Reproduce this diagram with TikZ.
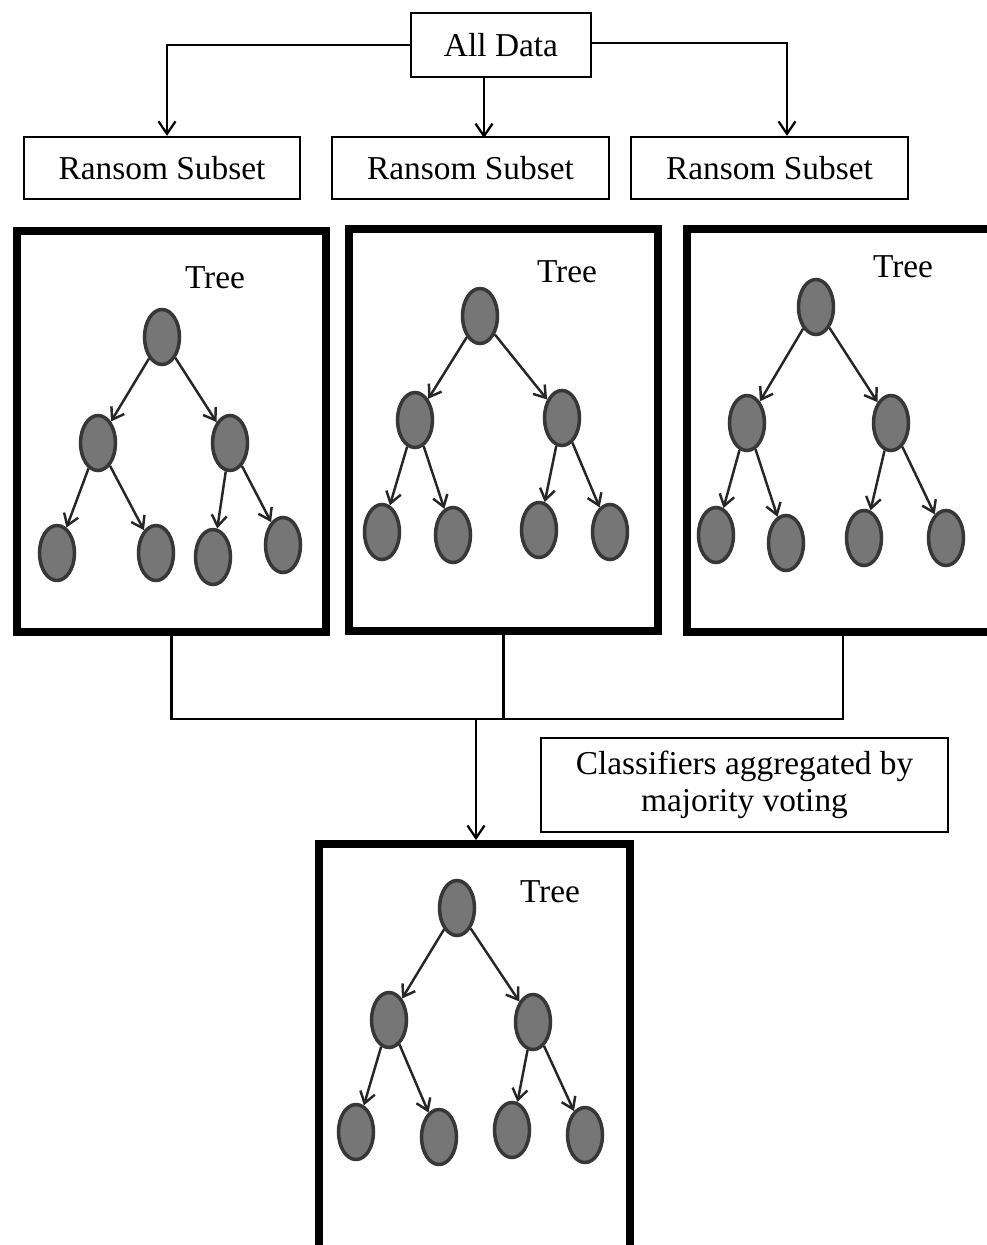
\documentclass[tikz,border=0pt]{standalone}
\usepackage{fontspec}
\setmainfont{Liberation Serif}
\usepackage{tikz}
\usetikzlibrary{shapes.geometric,arrows.meta}
\definecolor{leafgray}{RGB}{118,118,118}
\definecolor{rimgray}{RGB}{55,55,55}

\begin{document}
\begin{tikzpicture}[x=0.02cm,y=-0.02cm,
  font=\fontsize{19}{21}\selectfont,
  thinbox/.style={draw,rectangle,line width=1.3pt,inner sep=0pt},
  treebox/.style={draw,rectangle,line width=4.5pt,inner sep=0pt},
  tnode/.style={draw=rimgray,fill=leafgray,ellipse,line width=2pt,minimum width=0.7cm,minimum height=1.1cm,inner sep=0pt},
  tedge/.style={-{Straight Barb[length=2.2mm,width=3mm]},line width=1.4pt,draw=black!85},
  flow/.style={-{Straight Barb[length=2.5mm,width=3.4mm]},line width=1.3pt}]
\useasboundingbox (0,0) rectangle (987,1245);
\clip (0,0) rectangle (987,1245);

% Data and random subsets
\node[thinbox,minimum width=3.6cm,minimum height=1.28cm] (all) at (501,45) {All Data};
\node[thinbox,minimum width=5.52cm,minimum height=1.24cm] (sub1) at (162,168) {Ransom Subset};
\node[thinbox,minimum width=5.54cm,minimum height=1.24cm] (sub2) at (470.5,168) {Ransom Subset};
\node[thinbox,minimum width=5.54cm,minimum height=1.24cm] (sub3) at (769.5,168) {Ransom Subset};

\draw[flow] (all.west) -| ([xshift=0.1cm]sub1.north);
\draw[flow] ([xshift=-0.34cm]all.south) -- ++(0,60);
\draw[flow] ([yshift=0.04cm]all.east) -| ([xshift=0.35cm]sub3.north);

% Tree frames
\node[treebox,minimum width=6.18cm,minimum height=8.02cm] (tree1) at (171.5,431.5) {};
\node[treebox,minimum width=6.18cm,minimum height=8.04cm] (tree2) at (503.5,430) {};
\node[treebox,minimum width=6.24cm,minimum height=8.06cm] (tree3) at (843,430.5) {};
\node[treebox,minimum width=6.22cm,minimum height=8.32cm] (final) at (474.5,1052) {};

\node (lab1) at (215,278) {Tree};
\node (lab2) at (567,272) {Tree};
\node (lab3) at (903,267) {Tree};
\node (lab4) at (550,892) {Tree};

% Tree 1
\node[tnode] (t1r) at (162,337) {};
\node[tnode] (t1a) at (98,443) {};
\node[tnode] (t1b) at (230,443) {};
\node[tnode] (t1aa) at (57,553) {};
\node[tnode] (t1ab) at (156,553) {};
\node[tnode] (t1ba) at (213,557) {};
\node[tnode] (t1bb) at (283,545) {};

% Tree 2
\node[tnode] (t2r) at (480,316) {};
\node[tnode] (t2a) at (415,420) {};
\node[tnode] (t2b) at (562,418) {};
\node[tnode] (t2aa) at (382,532) {};
\node[tnode] (t2ab) at (453,535) {};
\node[tnode] (t2ba) at (539,530) {};
\node[tnode] (t2bb) at (610,532) {};

% Tree 3
\node[tnode] (t3r) at (816,307) {};
\node[tnode] (t3a) at (747,423) {};
\node[tnode] (t3b) at (891,423) {};
\node[tnode] (t3aa) at (716,535) {};
\node[tnode] (t3ab) at (786,543) {};
\node[tnode] (t3ba) at (864,538) {};
\node[tnode] (t3bb) at (946,538) {};

% Aggregated tree
\node[tnode] (t4r) at (457,908) {};
\node[tnode] (t4a) at (389,1020) {};
\node[tnode] (t4b) at (533,1022) {};
\node[tnode] (t4aa) at (356,1132) {};
\node[tnode] (t4ab) at (439,1137) {};
\node[tnode] (t4ba) at (512,1130) {};
\node[tnode] (t4bb) at (585,1135) {};

\foreach \t in {1,...,4}{
  \draw[tedge] (t\t r) -- (t\t a);
  \draw[tedge] (t\t r) -- (t\t b);
  \draw[tedge] (t\t a) -- (t\t aa);
  \draw[tedge] (t\t a) -- (t\t ab);
  \draw[tedge] (t\t b) -- (t\t ba);
  \draw[tedge] (t\t b) -- (t\t bb);
}

% Majority voting
\coordinate (bus) at (476,719);
\draw[line width=1.3pt] (tree1.south) |- (tree3.south |- bus) -- (tree3.south);
\draw[line width=1.3pt] (tree2.south) -- (tree2.south |- bus);
\draw[flow] (bus) -- (final.north -| bus);

\node[thinbox,minimum width=8.14cm,minimum height=1.88cm,align=center] (vote) at (744.5,785) {Classifiers aggregated by\\majority voting};
\end{tikzpicture}
\end{document}
